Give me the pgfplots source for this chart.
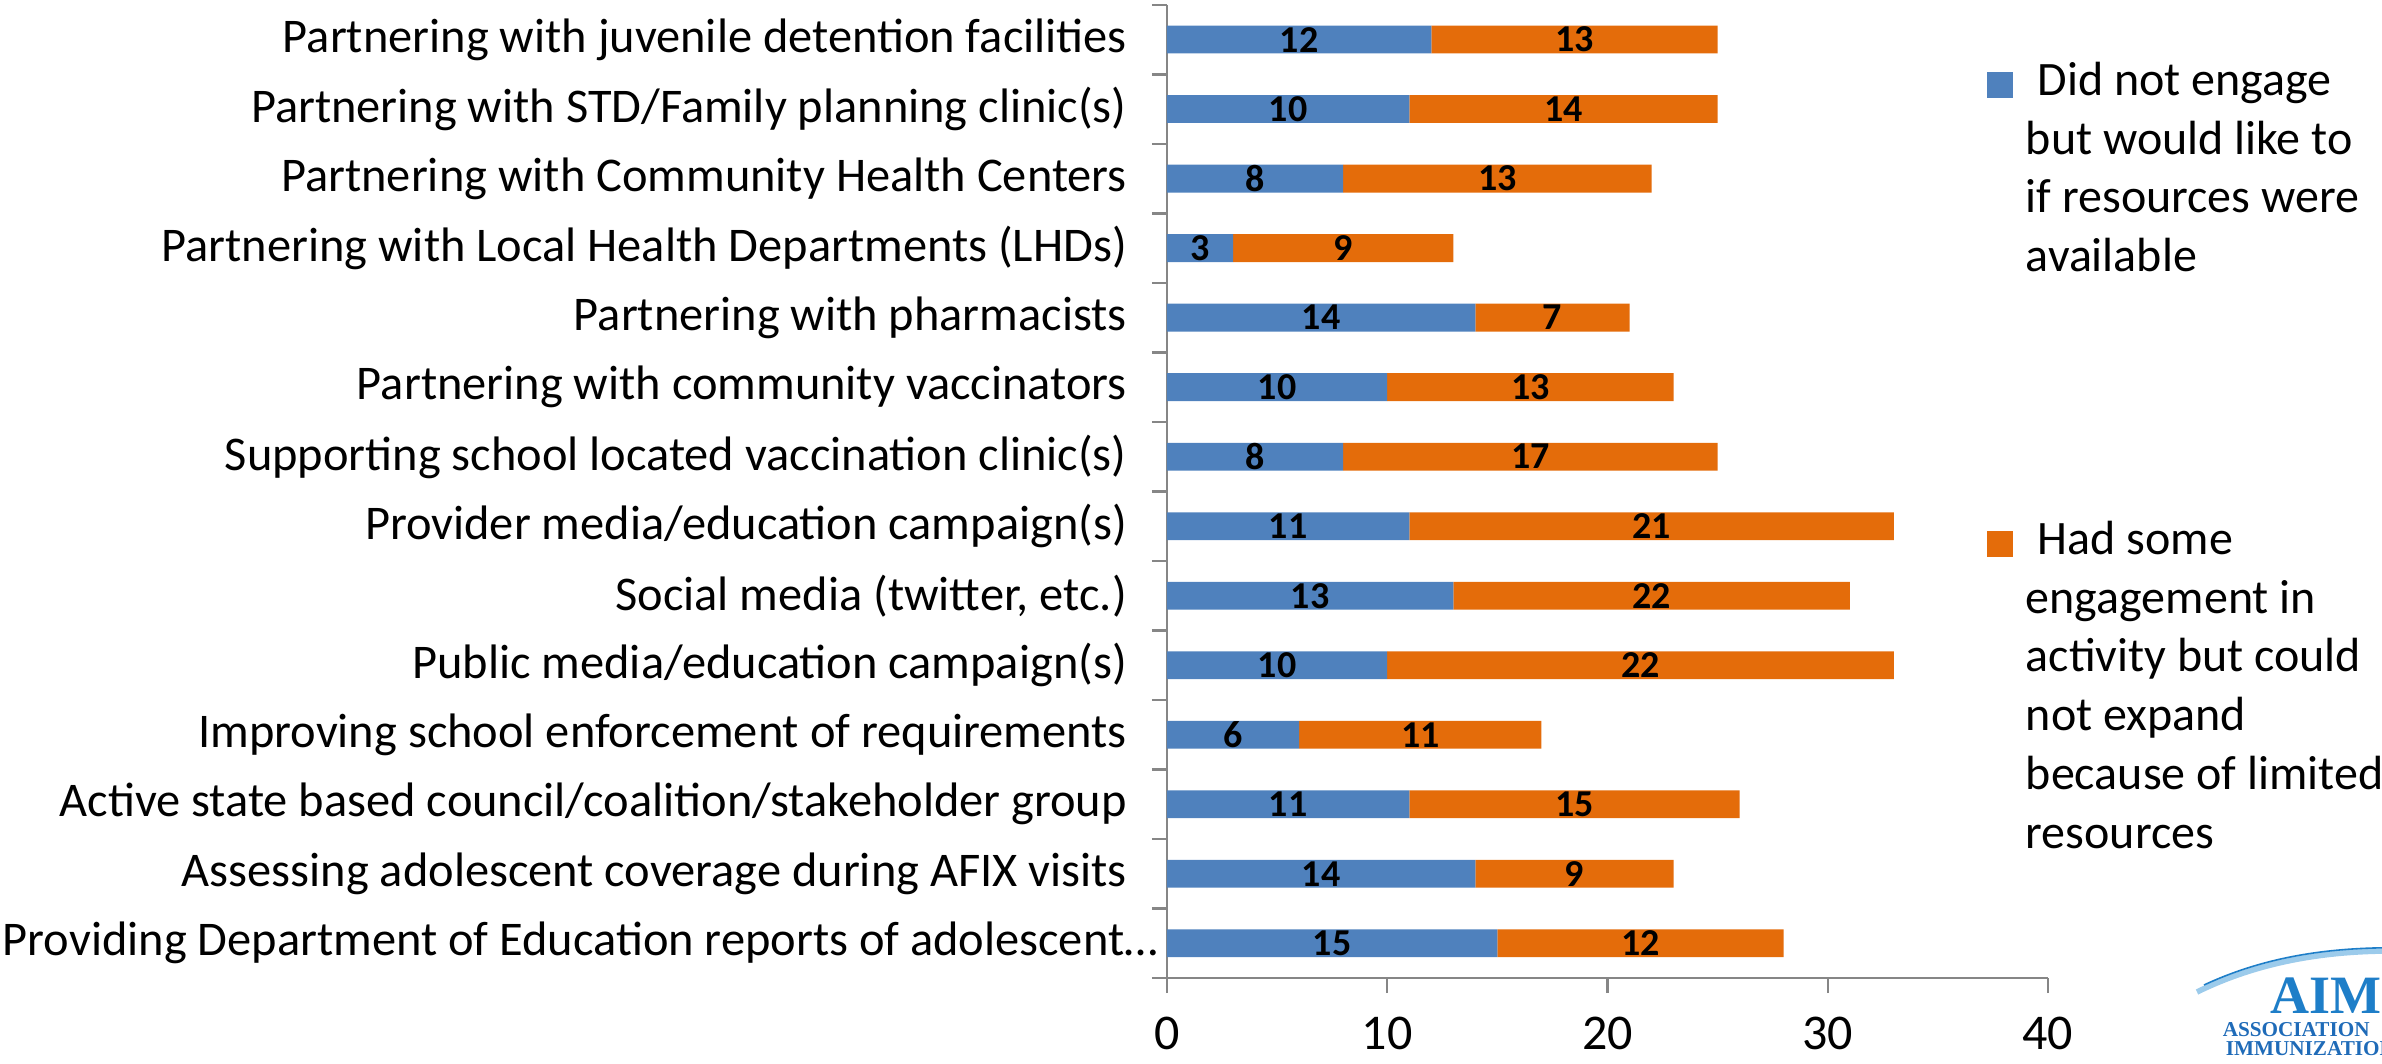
\documentclass[border=0pt]{standalone}
\usepackage{pgfplots}
\pgfplotsset{compat=1.18}
\usepackage{pgfplotstable}
\usepackage{fontspec}
\setmainfont{Carlito}
\newfontfamily\logofont{Liberation Serif}
\definecolor{cblue}{HTML}{4F81BD}
\definecolor{corange}{HTML}{E46C0A}
\definecolor{axgray}{HTML}{868686}
\definecolor{aimblue}{HTML}{1E7EC8}
\definecolor{aimdark}{HTML}{1F6BB8}
\definecolor{aimlight}{HTML}{9CCBEB}

\pgfplotstableread{
idx blue orange bl ol
0 12 13 12 13
1 11 14 10 14
2 8 14 8 13
3 3 10 3 9
4 14 7 14 7
5 10 13 10 13
6 8 17 8 17
7 11 22 11 21
8 13 18 13 22
9 10 23 10 22
10 6 11 6 11
11 11 15 11 15
12 14 9 14 9
13 15 13 15 12
}\datatable

\pgfplotsset{common/.style={
  at={(291.75pt,21.25pt)}, anchor=south west,
  scale only axis, width=220.25pt, height=243.3pt,
  xmin=0, xmax=40, ymin=-0.5, ymax=13.5, y dir=reverse}}

\begin{document}
\begin{tikzpicture}[x=1pt,y=1pt]
\path[use as bounding box] (0,0) rectangle (595.5,265.75);
\begin{axis}[
  common,
  xbar stacked, bar width=0.4,
  axis x line*=bottom, axis y line*=left,
  axis line style={axgray, line width=0.6pt},
  tick style={axgray, line width=0.6pt},
  tick align=outside, major tick length=3.75pt,
  xtick={0,10,20,30,40},
  ytick={-0.5,0.5,...,13.5},
  yticklabels={
    {Partnering with juvenile detention facilities},
    {Partnering with STD/Family planning clinic(s)},
    {Partnering with Community Health Centers},
    {Partnering with Local Health Departments (LHDs)},
    {Partnering with pharmacists},
    {Partnering with community vaccinators},
    {Supporting school located vaccination clinic(s)},
    {Provider media/education campaign(s)},
    {Social media (twitter, etc.)},
    {Public media/education campaign(s)},
    {Improving school enforcement of requirements},
    {Active state based council/coalition/stakeholder group},
    {Assessing adolescent coverage during AFIX visits},
    {Providing Department of Education reports of adolescent…\kern-7.75pt},
    {}},
  yticklabel style={font=\fontsize{12.1}{14}\selectfont, yshift=-8.69pt, xshift=-2.75pt},
  xticklabel style={font=\fontsize{12.5}{15}\selectfont, yshift=-2.6pt},
  /pgf/number format/assume math mode=true,
  clip=false,
]
\addplot[fill=cblue, draw=none] table[x=blue, y=idx] {\datatable};
\addplot[fill=corange, draw=none] table[x=orange, y=idx] {\datatable};
\end{axis}
\begin{axis}[
  common, hide axis, clip=false,
  point meta=explicit,
  nodes near coords,
  every node near coord/.append style={anchor=center, text=black, inner sep=0pt,
     font=\bfseries\fontsize{9.5}{11}\selectfont},
  /pgf/number format/assume math mode=true,
]
\addplot[draw=none, mark=none] table[x expr=\thisrow{blue}/2, y=idx, meta=bl] {\datatable};
\addplot[draw=none, mark=none] table[x expr=\thisrow{blue}+\thisrow{orange}/2, y=idx, meta=ol] {\datatable};
\end{axis}

% legend
\renewcommand{\arraystretch}{1}
\fill[cblue] (496.8,241.3) rectangle (503.2,247.7);
\node[anchor=base west, inner sep=0, font=\fontsize{12}{14.7}\selectfont]
  at (506.25,241.9) {\begin{tabular}[t]{@{}l@{}}\hspace*{3pt}Did not engage\\but would like to\\if resources were\\available\end{tabular}};
\fill[corange] (496.8,126.6) rectangle (503.2,133.0);
\node[anchor=base west, inner sep=0, font=\fontsize{12}{14.7}\selectfont]
  at (506.25,127.2) {\begin{tabular}[t]{@{}l@{}}\hspace*{3pt}Had some\\engagement in\\activity but could\\not expand\\because of limited\\resources\end{tabular}};

% logo
\draw[aimlight, line width=1.4pt] (549.25,17.75) .. controls (565,25.5) and (582,28.2) .. (600,28);
\draw[aimblue, line width=0.4pt] (551,19.5) .. controls (566,26.5) and (582,29) .. (600,28.8);
\node[anchor=base west, inner sep=0, text=aimblue, font=\logofont\bfseries\fontsize{13.5}{14}\selectfont] at (567.5,12.4) {AIM};
\node[anchor=base west, inner sep=0, text=aimdark, font=\logofont\bfseries\fontsize{5.3}{6}\selectfont] at (555.5,6.6) {ASSOCIATION};
\node[anchor=base west, inner sep=0, text=aimdark, font=\logofont\bfseries\fontsize{5.3}{6}\selectfont] at (556.25,1.9) {IMMUNIZATION};
\end{tikzpicture}
\end{document}
